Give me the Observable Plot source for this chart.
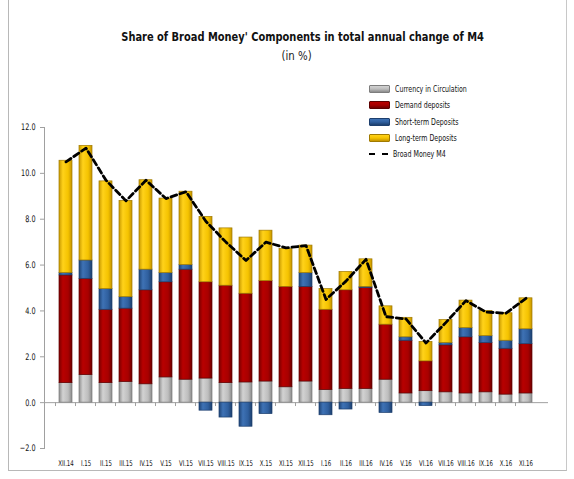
<!DOCTYPE html>
<html>
<head>
<meta charset="utf-8">
<script src="https://cdn.jsdelivr.net/npm/d3@7"></script>
<script src="https://cdn.jsdelivr.net/npm/@observablehq/plot@0.6"></script>
<style>
  html, body { margin: 0; padding: 0; background: #fff; }
  #wrap { position: relative; width: 574px; height: 479px; overflow: hidden; font-family: "DejaVu Sans", sans-serif; }
  #frame { position: absolute; left: 8px; top: -2px; width: 557px; height: 472px; border-left: 1px solid #b8b8b8; border-right: 1px solid #c8c8c8; border-bottom: 1px solid #b8b8b8; }
  #title { position: absolute; top: 29px; left: 22px; width: 552px; text-align: center; font-weight: bold; font-size: 12.5px; color: #111; transform: scaleX(0.79); transform-origin: 298px 0; }
  #subtitle { position: absolute; top: 49px; left: 18px; width: 552px; text-align: center; font-size: 12px; color: #222; transform: scaleX(0.85); transform-origin: 293px 0; }
  #chart { position: absolute; left: 0; top: 70px; }
  #legend { position: absolute; left: 369px; top: 81px; font-size: 8.5px; color: #111; }
  .li { display: flex; align-items: center; height: 16.3px; }
  .sw { width: 19px; height: 6px; margin-right: 5px; border-radius: 1px; flex: none; }
  .dash { width: 19px; height: 0; border-top: 2.5px dashed #000; margin-right: 5px; flex: none; }
  .lt { display: inline-block; transform: scaleX(0.74); transform-origin: 0 50%; white-space: nowrap; }
</style>
</head>
<body>
<div id="wrap">
  <div id="frame"></div>
  <div id="title">Share of Broad Money' Components in total annual change of M4</div>
  <div id="subtitle">(in %)</div>
  <div id="chart"></div>
  <div id="legend"></div>
</div>
<script>
const categories = ["XII.14","I.15","II.15","III.15","IV.15","V.15","VI.15","VII.15","VIII.15","IX.15","X.15","XI.15","XII.15","I.16","II.16","III.16","IV.16","V.16","VI.16","VII.16","VIII.16","IX.16","X.16","XI.16"];
const seriesNames = ["Currency in Circulation","Demand deposits","Short-term Deposits","Long-term Deposits"];
const currency = [0.85,1.2,0.85,0.9,0.8,1.1,1.0,1.05,0.85,0.88,0.92,0.67,0.92,0.55,0.6,0.6,1.0,0.4,0.5,0.45,0.4,0.45,0.35,0.4];
const demand   = [4.7,4.2,3.2,3.2,4.1,4.15,4.8,4.2,4.25,3.87,4.38,4.38,4.13,3.5,4.3,4.4,2.4,2.3,1.3,2.05,2.45,2.15,2.0,2.15];
const shortTerm= [0.1,0.8,0.9,0.5,0.9,0.4,0.2,-0.35,-0.65,-1.05,-0.5,0.0,0.6,-0.55,-0.3,0.05,-0.45,0.15,-0.15,0.1,0.4,0.3,0.35,0.65];
const longTerm = [4.9,5.0,4.7,4.2,3.9,3.25,3.2,2.85,2.5,2.45,2.2,1.65,1.2,0.9,0.8,1.2,0.8,0.85,0.85,1.0,1.2,1.1,1.2,1.35];
const broadM4  = [10.5,11.1,9.7,8.8,9.7,8.9,9.2,7.9,7.0,6.2,7.0,6.75,6.85,4.5,5.3,6.25,3.75,3.65,2.6,3.5,4.45,3.95,3.9,4.55];
const yTicks = [-2,0,2,4,6,8,10,12];

const colors = {
  "Currency in Circulation": {g: "gGrey", stroke: "#7d7d7d"},
  "Demand deposits": {g: "gRed", stroke: "#5e0000"},
  "Short-term Deposits": {g: "gBlue", stroke: "#1d3f6e"},
  "Long-term Deposits": {g: "gYellow", stroke: "#a07a00"}
};
const gradStops = {
  gGrey: ["#8e8e8e", "#d2d2d2", "#bdbdbd", "#8a8a8a"],
  gRed: ["#7c0000", "#b80000", "#a80000", "#6e0000"],
  gBlue: ["#1f4577", "#3e72b5", "#2f5f9e", "#1c3f6d"],
  gYellow: ["#c99a00", "#ffd21a", "#f5c300", "#c49400"]
};

const seriesValues = [currency, demand, shortTerm, longTerm];
const rows = [];
categories.forEach((m, i) => {
  seriesNames.forEach((s, k) => rows.push({month: m, series: s, value: seriesValues[k][i]}));
});
const lineData = categories.map((m, i) => ({month: m, m4: broadM4[i]}));

const W = 574, H = 408;
const plot = Plot.plot({
  width: W, height: H,
  marginLeft: 44, marginRight: 26, marginTop: 57, marginBottom: 30,
  style: {fontFamily: '"DejaVu Sans", sans-serif', fontSize: "8.5px", color: "#111", background: "transparent"},
  x: {domain: categories, padding: 0.33, label: null},
  y: {domain: [-2, 12], label: null},
  color: {type: "identity"},
  marks: [
    Plot.ruleY([0], {stroke: "#a0a0a0", strokeWidth: 1}),
    Plot.ruleX(categories, {x: d => d, y1: 0, y2: -0.17, dx: -10.5, stroke: "#a0a0a0"}),
    Plot.frame({anchor: "left", stroke: "#a0a0a0"}),
    Plot.axisY({ticks: yTicks, tickFormat: d3.format(".1f"), tickSize: 4, tickPadding: 5, stroke: "#a0a0a0", fill: "#111", fontSize: 9, label: null}),
    Plot.axisX({tickSize: 0, tickPadding: 12, fontSize: 8, fill: "#111", label: null}),
    Plot.barY(rows, {x: "month", y: "value", z: "series",
      fill: d => "url(#" + colors[d.series].g + ")",
      stroke: d => colors[d.series].stroke, strokeWidth: 0.7}),
    Plot.line(lineData, {x: "month", y: "m4", stroke: "#000", strokeWidth: 2.8, strokeDasharray: "6,3.5"})
  ]
});

// gradients for the bevelled look
const ns = "http://www.w3.org/2000/svg";
const defs = document.createElementNS(ns, "defs");
Object.entries(gradStops).forEach(([id, st]) => {
  const lg = document.createElementNS(ns, "linearGradient");
  lg.setAttribute("id", id);
  lg.setAttribute("x1", "0"); lg.setAttribute("x2", "1"); lg.setAttribute("y1", "0"); lg.setAttribute("y2", "0");
  [0, 0.3, 0.7, 1].forEach((o, i) => {
    const s = document.createElementNS(ns, "stop");
    s.setAttribute("offset", o);
    s.setAttribute("stop-color", st[i]);
    lg.appendChild(s);
  });
  defs.appendChild(lg);
});
plot.insertBefore(defs, plot.firstChild);
document.getElementById("chart").appendChild(plot);

// condense tick labels (narrow typeface look) by scaling each text horizontally
const isNum = v => v != null && v !== "" && isFinite(+v);
function condense(selector, k) {
  plot.querySelectorAll(selector).forEach(t => {
    let tr = t.getAttribute("transform") || "";
    const x = t.getAttribute("x"), y = t.getAttribute("y");
    const tx = isNum(x) ? +x : 0, ty = isNum(y) ? +y : 0;
    if (isNum(x)) t.removeAttribute("x");
    if (isNum(y)) t.removeAttribute("y");
    if (tx || ty) tr += ` translate(${tx},${ty})`;
    t.setAttribute("transform", `${tr} scale(${k},1)`.trim());
  });
}
condense('g[aria-label="x-axis tick label"] text', 0.68);
condense('g[aria-label="y-axis tick label"] text', 0.72);

// legend
const leg = document.getElementById("legend");
seriesNames.forEach(s => {
  const st = gradStops[colors[s].g];
  const d = document.createElement("div"); d.className = "li";
  d.innerHTML = `<div class="sw" style="background: linear-gradient(to bottom, ${st[1]}, ${st[2]} 50%, ${st[3]}); border: 1px solid ${colors[s].stroke}"></div><span class="lt">${s}</span>`;
  leg.appendChild(d);
});
const dl = document.createElement("div"); dl.className = "li";
dl.innerHTML = `<div class="dash"></div><span class="lt">Broad Money M4</span>`;
leg.appendChild(dl);
</script>
</body>
</html>
